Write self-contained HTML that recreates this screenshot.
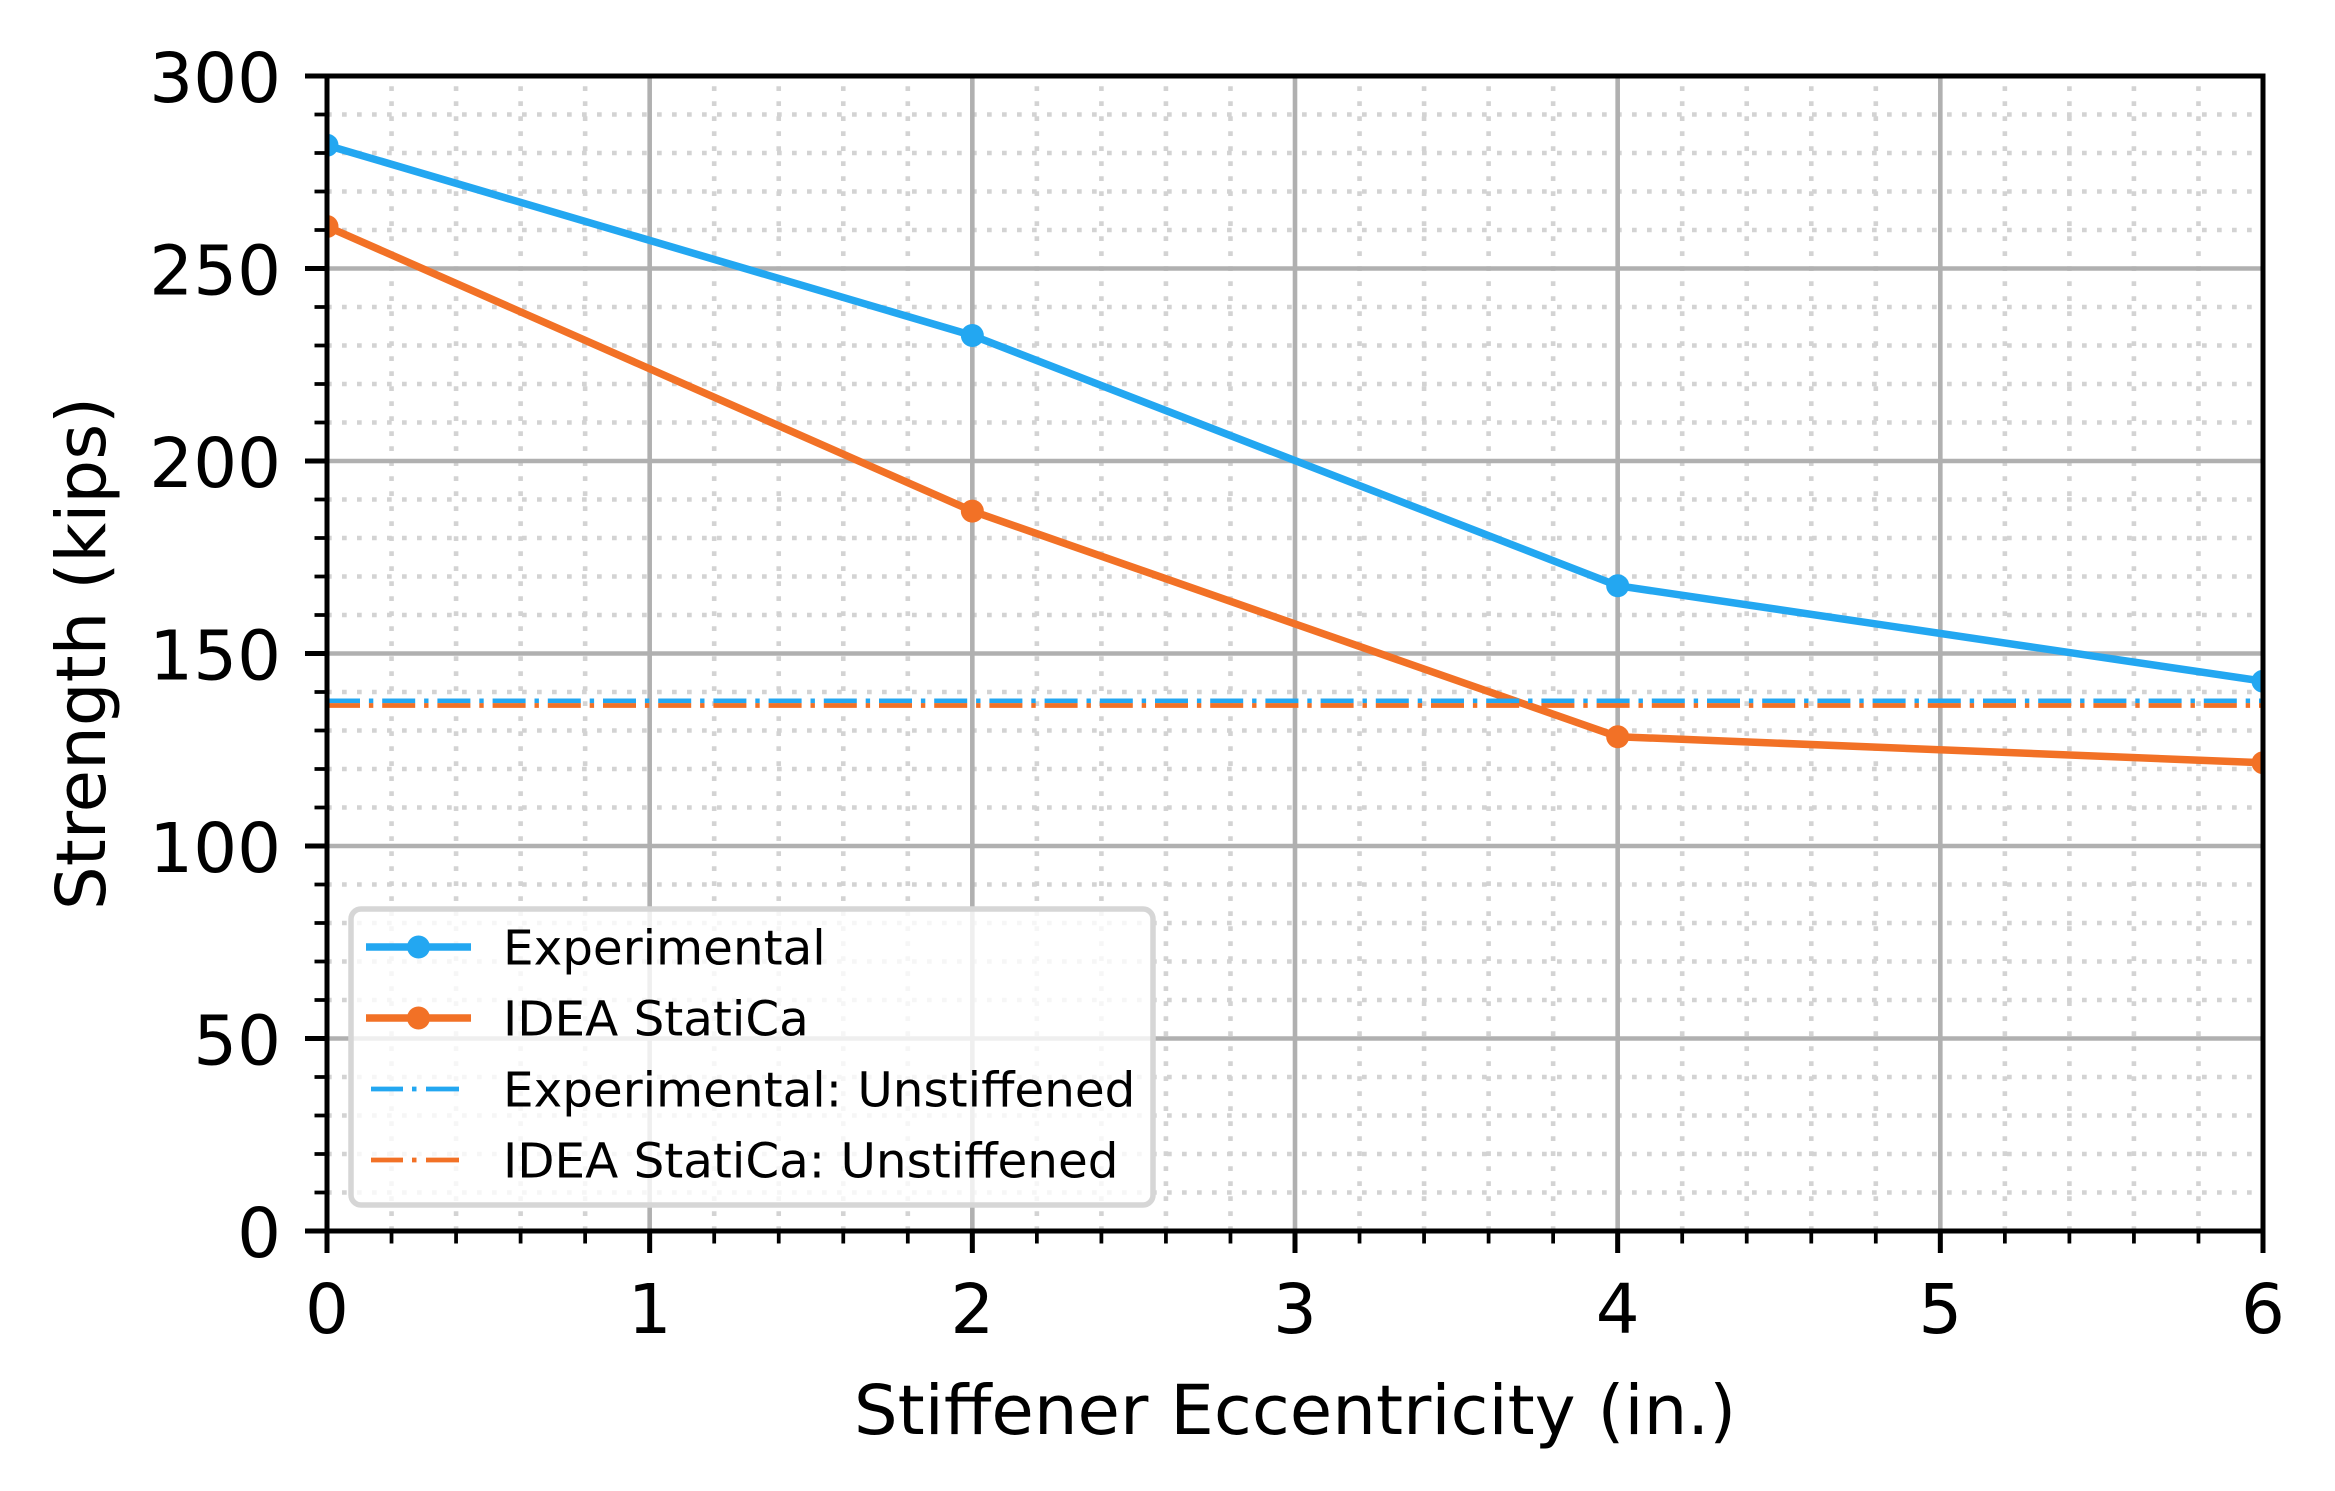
<!DOCTYPE html>
<html>
<head>
<meta charset="utf-8">
<style>
html,body{margin:0;padding:0;background:#ffffff;}
body{width:2335px;height:1491px;overflow:hidden;}
svg{display:block;}
text{font-family:"DejaVu Sans","Liberation Sans",sans-serif;fill:#000;}
</style>
</head>
<body>
<svg width="2335" height="1491" viewBox="0 0 2335 1491" xmlns="http://www.w3.org/2000/svg">
<defs>
<clipPath id="ax"><rect x="327" y="76" width="1936" height="1155"/></clipPath>
</defs>
<rect x="0" y="0" width="2335" height="1491" fill="#ffffff"/>

<!-- minor grid (dotted) -->
<g stroke="#d3d3d3" stroke-width="4.6" stroke-dasharray="4.7 10.3" fill="none">
<path d="M391.53 1231V76M456.07 1231V76M520.6 1231V76M585.13 1231V76M714.2 1231V76M778.73 1231V76M843.27 1231V76M907.8 1231V76M1036.87 1231V76M1101.4 1231V76M1165.93 1231V76M1230.47 1231V76M1359.53 1231V76M1424.07 1231V76M1488.6 1231V76M1553.13 1231V76M1682.2 1231V76M1746.73 1231V76M1811.27 1231V76M1875.8 1231V76M2004.87 1231V76M2069.4 1231V76M2133.93 1231V76M2198.47 1231V76"/>
<path d="M327 1192.5H2263M327 1154H2263M327 1115.5H2263M327 1077H2263M327 1000H2263M327 961.5H2263M327 923H2263M327 884.5H2263M327 807.5H2263M327 769H2263M327 730.5H2263M327 692H2263M327 615H2263M327 576.5H2263M327 538H2263M327 499.5H2263M327 422.5H2263M327 384H2263M327 345.5H2263M327 307H2263M327 230H2263M327 191.5H2263M327 153H2263M327 114.5H2263"/>
</g>

<!-- major grid -->
<g stroke="#b0b0b0" stroke-width="4.6" fill="none">
<path d="M649.67 1231V76M972.33 1231V76M1295 1231V76M1617.67 1231V76M1940.33 1231V76"/>
<path d="M327 1038.5H2263M327 846H2263M327 653.5H2263M327 461H2263M327 268.5H2263"/>
</g>

<!-- data -->
<g clip-path="url(#ax)">
<polyline points="327,145.3 972.33,335.5 1617.67,585.7 2263,681.2" fill="none" stroke="#23a7f1" stroke-width="7.5" stroke-linejoin="round" stroke-linecap="butt"/>
<g fill="#23a7f1"><circle cx="327" cy="145.3" r="11.5"/><circle cx="972.33" cy="335.5" r="11.5"/><circle cx="1617.67" cy="585.7" r="11.5"/><circle cx="2263" cy="681.2" r="11.5"/></g>
<polyline points="327,226.5 972.33,511.1 1617.67,736.7 2263,762.8" fill="none" stroke="#f27126" stroke-width="7.5" stroke-linejoin="round" stroke-linecap="butt"/>
<g fill="#f27126"><circle cx="327" cy="226.5" r="11.5"/><circle cx="972.33" cy="511.1" r="11.5"/><circle cx="1617.67" cy="736.7" r="11.5"/><circle cx="2263" cy="762.8" r="11.5"/></g>
<line x1="327" y1="700.9" x2="2263" y2="700.9" stroke="#23a7f1" stroke-width="4.7" stroke-dasharray="33 8.9 4.4 8.9"/>
<line x1="327" y1="705.5" x2="2263" y2="705.5" stroke="#f27126" stroke-width="4.7" stroke-dasharray="33 8.9 4.4 8.9"/>
</g>

<!-- spines -->
<rect x="327" y="76" width="1936" height="1155" fill="none" stroke="#000" stroke-width="5"/>

<!-- major ticks -->
<g stroke="#000" stroke-width="5">
<path d="M327 1231V1253M649.67 1231V1253M972.33 1231V1253M1295 1231V1253M1617.67 1231V1253M1940.33 1231V1253M2263 1231V1253"/>
<path d="M327 1231H305M327 1038.5H305M327 846H305M327 653.5H305M327 461H305M327 268.5H305M327 76H305"/>
</g>
<!-- minor ticks -->
<g stroke="#000" stroke-width="3.75">
<path d="M391.53 1231V1243.5M456.07 1231V1243.5M520.6 1231V1243.5M585.13 1231V1243.5M714.2 1231V1243.5M778.73 1231V1243.5M843.27 1231V1243.5M907.8 1231V1243.5M1036.87 1231V1243.5M1101.4 1231V1243.5M1165.93 1231V1243.5M1230.47 1231V1243.5M1359.53 1231V1243.5M1424.07 1231V1243.5M1488.6 1231V1243.5M1553.13 1231V1243.5M1682.2 1231V1243.5M1746.73 1231V1243.5M1811.27 1231V1243.5M1875.8 1231V1243.5M2004.87 1231V1243.5M2069.4 1231V1243.5M2133.93 1231V1243.5M2198.47 1231V1243.5"/>
<path d="M327 1192.5H314.5M327 1154H314.5M327 1115.5H314.5M327 1077H314.5M327 1000H314.5M327 961.5H314.5M327 923H314.5M327 884.5H314.5M327 807.5H314.5M327 769H314.5M327 730.5H314.5M327 692H314.5M327 615H314.5M327 576.5H314.5M327 538H314.5M327 499.5H314.5M327 422.5H314.5M327 384H314.5M327 345.5H314.5M327 307H314.5M327 230H314.5M327 191.5H314.5M327 153H314.5M327 114.5H314.5"/>
</g>

<!-- tick labels -->
<g font-size="69" text-anchor="end">
<text x="281" y="1257">0</text>
<text x="281" y="1064.5">50</text>
<text x="281" y="872">100</text>
<text x="281" y="679.5">150</text>
<text x="281" y="487">200</text>
<text x="281" y="294.5">250</text>
<text x="281" y="102">300</text>
</g>
<g font-size="69" text-anchor="middle">
<text x="327" y="1333">0</text>
<text x="649.67" y="1333">1</text>
<text x="972.33" y="1333">2</text>
<text x="1295" y="1333">3</text>
<text x="1617.67" y="1333">4</text>
<text x="1940.33" y="1333">5</text>
<text x="2263" y="1333">6</text>
</g>

<!-- axis labels -->
<text x="1295" y="1434" font-size="69" text-anchor="middle">Stiffener Eccentricity (in.)</text>
<text x="0" y="0" font-size="69" text-anchor="middle" transform="translate(105,653.5) rotate(-90)">Strength (kips)</text>

<!-- legend -->
<rect x="351" y="909" width="802" height="296" rx="10" ry="10" fill="#ffffff" fill-opacity="0.8" stroke="#d6d6d6" stroke-width="5.5"/>
<line x1="366" y1="947" x2="471" y2="947" stroke="#23a7f1" stroke-width="7.5"/>
<circle cx="418.5" cy="947" r="11.5" fill="#23a7f1"/>
<line x1="366" y1="1018" x2="471" y2="1018" stroke="#f27126" stroke-width="7.5"/>
<circle cx="418.5" cy="1018" r="11.5" fill="#f27126"/>
<g stroke="#23a7f1" stroke-width="4.7">
<path d="M371 1089H403M412 1089H416.5M426 1089H459"/>
</g>
<g stroke="#f27126" stroke-width="4.7">
<path d="M371 1160H403M412 1160H416.5M426 1160H459"/>
</g>
<g font-size="48.4">
<text x="503" y="964.5">Experimental</text>
<text x="503" y="1035.5">IDEA StatiCa</text>
<text x="503" y="1106.5">Experimental: Unstiffened</text>
<text x="503" y="1177.5">IDEA StatiCa: Unstiffened</text>
</g>
</svg>
</body>
</html>
